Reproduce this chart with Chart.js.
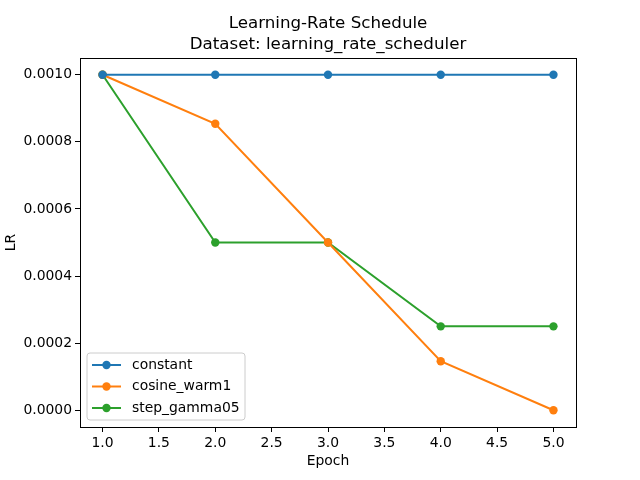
<!DOCTYPE html>
<html lang="en">
<head>
  <meta charset="UTF-8">
  <title>Learning-Rate Schedule</title>
  <script src="https://cdn.jsdelivr.net/npm/chart.js"></script>
  <style>
    body { margin: 0; background: #fff; }
    #wrap { width: 640px; height: 480px; }
  </style>
</head>
<body>
  <div id="wrap"><canvas id="lrChart" width="640" height="480"></canvas></div>

  <script>
    // Data
    const epochs = [1, 2, 3, 4, 5];
    const constantLR = [0.001, 0.001, 0.001, 0.001, 0.001];
    const cosineWarm1 = [0.001, 0.000854, 0.0005, 0.000146, 0.0];
    const stepGamma05 = [0.001, 0.0005, 0.0005, 0.00025, 0.00025];
    const xTicks = [1.0, 1.5, 2.0, 2.5, 3.0, 3.5, 4.0, 4.5, 5.0];
    const yTicks = [0.0, 0.0002, 0.0004, 0.0006, 0.0008, 0.001];

    const FONT = 'DejaVu Sans';
    const toPoints = vals => vals.map((v, i) => ({ x: epochs[i], y: v }));

    function series(label, vals, color) {
      return {
        label: label,
        data: toPoints(vals),
        borderColor: color,
        backgroundColor: color,
        borderWidth: 2,
        pointRadius: 4.2,
        pointHoverRadius: 4.2,
        pointBorderWidth: 0,
        tension: 0
      };
    }

    // frame, titles and the in-axes legend, matplotlib style
    const mplDecor = {
      id: 'mplDecor',
      afterDraw(chart) {
        const { ctx, chartArea: a } = chart;
        ctx.save();
        ctx.strokeStyle = '#000';
        ctx.lineWidth = 1;
        ctx.strokeRect(Math.round(a.left) + 0.5, Math.round(a.top) + 0.5,
          Math.round(a.right - a.left), Math.round(a.bottom - a.top));

        ctx.fillStyle = '#000';
        ctx.font = '16.7px "' + FONT + '"';
        ctx.textAlign = 'center';
        ctx.textBaseline = 'alphabetic';
        const cx = (a.left + a.right) / 2;
        ctx.fillText('Learning-Rate Schedule', cx, 28);
        ctx.fillText('Dataset: learning_rate_scheduler', cx, 49);

        // legend box
        const bx = a.left + 7, by = a.bottom - 74, bw = 158, bh = 67;
        ctx.beginPath();
        const r = 3;
        ctx.moveTo(bx + r, by);
        ctx.arcTo(bx + bw, by, bx + bw, by + bh, r);
        ctx.arcTo(bx + bw, by + bh, bx, by + bh, r);
        ctx.arcTo(bx, by + bh, bx, by, r);
        ctx.arcTo(bx, by, bx + bw, by, r);
        ctx.closePath();
        ctx.fillStyle = 'rgba(255,255,255,0.8)';
        ctx.fill();
        ctx.strokeStyle = '#cccccc';
        ctx.stroke();

        ctx.font = '13.9px "' + FONT + '"';
        ctx.textAlign = 'left';
        ctx.textBaseline = 'middle';
        chart.data.datasets.forEach((ds, i) => {
          const y = by + 12 + i * 21.5;
          ctx.strokeStyle = ds.borderColor;
          ctx.lineWidth = 2;
          ctx.beginPath();
          ctx.moveTo(bx + 5, y);
          ctx.lineTo(bx + 34, y);
          ctx.stroke();
          ctx.fillStyle = ds.borderColor;
          ctx.beginPath();
          ctx.arc(bx + 19.5, y, 4.2, 0, Math.PI * 2);
          ctx.fill();
          ctx.fillStyle = '#000';
          ctx.fillText(ds.label, bx + 45, y);
        });
        ctx.restore();
      }
    };

    new Chart(document.getElementById('lrChart'), {
      type: 'line',
      data: {
        datasets: [
          series('constant', constantLR, '#1f77b4'),
          series('cosine_warm1', cosineWarm1, '#ff7f0e'),
          series('step_gamma05', stepGamma05, '#2ca02c')
        ]
      },
      options: {
        responsive: false,
        animation: false,
        layout: { padding: { top: 58, right: 64, left: 0, bottom: 0 } },
        plugins: { legend: { display: false }, title: { display: false }, tooltip: { enabled: false } },
        scales: {
          x: {
            type: 'linear',
            min: 0.8,
            max: 5.2,
            afterBuildTicks: s => { s.ticks = xTicks.map(v => ({ value: v })); },
            afterFit: s => { s.height = 53; },
            grid: { drawOnChartArea: false, drawTicks: true, tickLength: 5, tickColor: '#000', color: '#000' },
            border: { display: true, color: '#000' },
            ticks: {
              color: '#000',
              padding: 3,
              maxRotation: 0,
              font: { family: FONT, size: 13.9 },
              callback: v => v.toFixed(1)
            },
            title: {
              display: true,
              text: 'Epoch',
              color: '#000',
              font: { family: FONT, size: 13.9 },
              padding: { top: 0, bottom: 10 }
            }
          },
          y: {
            type: 'linear',
            min: -0.00005,
            max: 0.00105,
            afterBuildTicks: s => { s.ticks = yTicks.map(v => ({ value: v })); },
            afterFit: s => { s.width = 80; },
            grid: { drawOnChartArea: false, drawTicks: true, tickLength: 5, tickColor: '#000', color: '#000' },
            border: { display: true, color: '#000' },
            ticks: {
              color: '#000',
              padding: 3,
              font: { family: FONT, size: 13.9 },
              callback: v => v.toFixed(4)
            },
            title: {
              display: true,
              text: 'LR',
              color: '#000',
              font: { family: FONT, size: 13.9 },
              padding: { top: 3, bottom: 0 }
            }
          }
        }
      },
      plugins: [mplDecor]
    });
  </script>
</body>
</html>
